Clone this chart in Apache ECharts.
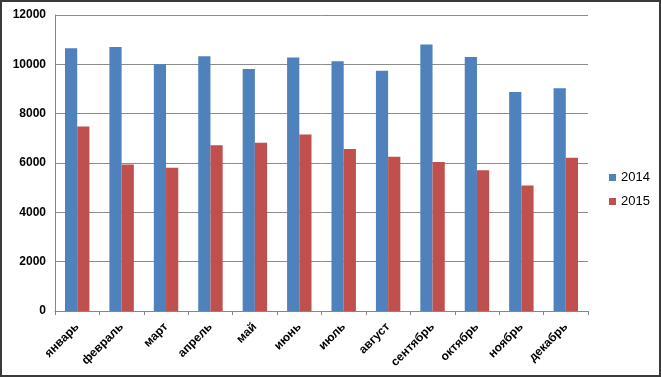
<!DOCTYPE html>
<html>
<head>
<meta charset="utf-8">
<script src="https://cdn.jsdelivr.net/npm/echarts@6/dist/echarts.min.js"></script>
<style>
  html, body { margin: 0; padding: 0; background: #fff; }
  #chart { width: 661px; height: 377px; box-sizing: border-box; border: 2px solid #3a3a3a; }
</style>
</head>
<body>
<div id="chart"></div>
<script>
const months = ['январь', 'февраль', 'март', 'апрель', 'май', 'июнь', 'июль', 'август', 'сентябрь', 'октябрь', 'ноябрь', 'декабрь']
const values2014 = [10650, 10700, 10000, 10330, 9810, 10280, 10120, 9740, 10800, 10300, 8880, 9030]
const values2015 = [7480, 5940, 5810, 6720, 6820, 7160, 6570, 6250, 6040, 5710, 5090, 6210]
const seriesNames = ['2014', '2015']

var myChart = echarts.init(document.getElementById('chart'))
var font = 'Liberation Sans'

var option = {
  animation: false,
  color: ['#4F81BD', '#C0504D'],
  grid: { left: 53, right: 71, top: 13, bottom: 64 },
  legend: {
    orient: 'vertical',
    left: 607,
    top: 169,
    padding: 0,
    itemWidth: 7,
    itemHeight: 7,
    itemGap: 11,
    icon: 'rect',
    textStyle: { fontFamily: font, fontSize: 13, color: '#000' },
    data: seriesNames,
  },
  xAxis: {
    type: 'category',
    data: months,
    axisLine: { lineStyle: { color: '#868686' } },
    axisTick: { show: true, length: 4, lineStyle: { color: '#868686' } },
    axisLabel: {
      rotate: 45,
      interval: 0,
      margin: 14,
      fontFamily: font,
      fontSize: 12,
      fontWeight: 'bold',
      color: '#000',
    },
  },
  yAxis: {
    type: 'value',
    min: 0,
    max: 12000,
    interval: 2000,
    axisLine: { show: true, lineStyle: { color: '#868686' } },
    axisTick: { show: false },
    splitLine: { lineStyle: { color: '#8c8c8c', width: 1 } },
    axisLabel: {
      margin: 9,
      fontFamily: font,
      fontSize: 12,
      fontWeight: 'bold',
      color: '#000',
      formatter: function (v) {
        return String(v)
      },
    },
  },
  series: [
    {
      name: seriesNames[0],
      type: 'bar',
      data: values2014,
      barGap: '0%',
      barCategoryGap: '45%',
    },
    {
      name: seriesNames[1],
      type: 'bar',
      data: values2015,
      barGap: '0%',
      barCategoryGap: '45%',
    },
  ],
}
myChart.setOption(option)
</script>
</body>
</html>
